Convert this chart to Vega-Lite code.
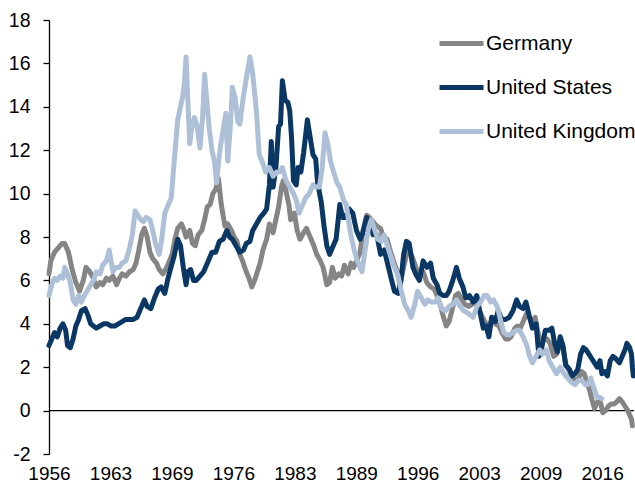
{
"$schema":"https://vega.github.io/schema/vega-lite/v6.json",
"width":585,"height":434,
"autosize":{"type":"none"},
"padding":{"left":49,"top":20,"right":1,"bottom":30},
"config":{"view":{"stroke":null},"font":"Liberation Sans"},
"datasets":{"rates":[
{"c":"Germany","t":1956.0,"v":6.3},{"c":"Germany","t":1956.2,"v":6.9},{"c":"Germany","t":1956.6,"v":7.3},{"c":"Germany","t":1957.0,"v":7.5},{"c":"Germany","t":1957.4,"v":7.7},{"c":"Germany","t":1957.7,"v":7.7},{"c":"Germany","t":1958.1,"v":7.3},{"c":"Germany","t":1958.5,"v":6.5},{"c":"Germany","t":1958.9,"v":5.9},{"c":"Germany","t":1959.3,"v":5.5},{"c":"Germany","t":1959.7,"v":6.0},{"c":"Germany","t":1960.0,"v":6.6},{"c":"Germany","t":1960.4,"v":6.4},{"c":"Germany","t":1960.8,"v":6.1},{"c":"Germany","t":1961.1,"v":5.7},{"c":"Germany","t":1961.5,"v":5.9},{"c":"Germany","t":1961.8,"v":5.8},{"c":"Germany","t":1962.2,"v":6.1},{"c":"Germany","t":1962.5,"v":6.0},{"c":"Germany","t":1962.9,"v":6.2},{"c":"Germany","t":1963.3,"v":5.8},{"c":"Germany","t":1963.6,"v":6.1},{"c":"Germany","t":1963.9,"v":6.3},{"c":"Germany","t":1964.3,"v":6.2},{"c":"Germany","t":1964.7,"v":6.4},{"c":"Germany","t":1965.1,"v":6.5},{"c":"Germany","t":1965.4,"v":6.8},{"c":"Germany","t":1965.7,"v":7.4},{"c":"Germany","t":1966.0,"v":8.1},{"c":"Germany","t":1966.3,"v":8.4},{"c":"Germany","t":1966.6,"v":8.0},{"c":"Germany","t":1966.9,"v":7.3},{"c":"Germany","t":1967.2,"v":7.0},{"c":"Germany","t":1967.6,"v":6.8},{"c":"Germany","t":1967.9,"v":6.5},{"c":"Germany","t":1968.3,"v":6.3},{"c":"Germany","t":1968.7,"v":6.6},{"c":"Germany","t":1969.0,"v":6.9},{"c":"Germany","t":1969.3,"v":7.2},{"c":"Germany","t":1969.6,"v":7.9},{"c":"Germany","t":1969.9,"v":8.4},{"c":"Germany","t":1970.3,"v":8.6},{"c":"Germany","t":1970.6,"v":8.3},{"c":"Germany","t":1970.8,"v":8.0},{"c":"Germany","t":1971.2,"v":8.3},{"c":"Germany","t":1971.5,"v":7.7},{"c":"Germany","t":1971.8,"v":7.6},{"c":"Germany","t":1972.1,"v":8.1},{"c":"Germany","t":1972.5,"v":8.3},{"c":"Germany","t":1972.8,"v":8.8},{"c":"Germany","t":1973.1,"v":9.4},{"c":"Germany","t":1973.4,"v":9.5},{"c":"Germany","t":1973.7,"v":10.0},{"c":"Germany","t":1974.0,"v":10.2},{"c":"Germany","t":1974.3,"v":10.7},{"c":"Germany","t":1974.6,"v":9.5},{"c":"Germany","t":1975.0,"v":8.5},{"c":"Germany","t":1975.3,"v":8.6},{"c":"Germany","t":1975.7,"v":8.3},{"c":"Germany","t":1976.0,"v":8.0},{"c":"Germany","t":1976.3,"v":7.8},{"c":"Germany","t":1976.6,"v":7.2},{"c":"Germany","t":1976.9,"v":6.9},{"c":"Germany","t":1977.3,"v":6.4},{"c":"Germany","t":1977.6,"v":6.1},{"c":"Germany","t":1977.9,"v":5.7},{"c":"Germany","t":1978.2,"v":6.0},{"c":"Germany","t":1978.5,"v":6.4},{"c":"Germany","t":1978.8,"v":6.8},{"c":"Germany","t":1979.1,"v":7.4},{"c":"Germany","t":1979.5,"v":7.9},{"c":"Germany","t":1979.8,"v":8.6},{"c":"Germany","t":1980.2,"v":8.2},{"c":"Germany","t":1980.5,"v":8.8},{"c":"Germany","t":1980.8,"v":9.4},{"c":"Germany","t":1981.1,"v":10.3},{"c":"Germany","t":1981.3,"v":10.6},{"c":"Germany","t":1981.6,"v":10.1},{"c":"Germany","t":1981.9,"v":9.5},{"c":"Germany","t":1982.1,"v":8.8},{"c":"Germany","t":1982.5,"v":9.1},{"c":"Germany","t":1982.8,"v":8.3},{"c":"Germany","t":1983.1,"v":7.9},{"c":"Germany","t":1983.5,"v":8.2},{"c":"Germany","t":1983.8,"v":8.4},{"c":"Germany","t":1984.2,"v":8.0},{"c":"Germany","t":1984.6,"v":7.6},{"c":"Germany","t":1984.9,"v":7.2},{"c":"Germany","t":1985.3,"v":6.9},{"c":"Germany","t":1985.6,"v":6.6},{"c":"Germany","t":1986.0,"v":5.8},{"c":"Germany","t":1986.3,"v":5.9},{"c":"Germany","t":1986.6,"v":6.6},{"c":"Germany","t":1986.9,"v":6.1},{"c":"Germany","t":1987.3,"v":6.3},{"c":"Germany","t":1987.6,"v":6.2},{"c":"Germany","t":1987.9,"v":6.7},{"c":"Germany","t":1988.3,"v":6.3},{"c":"Germany","t":1988.6,"v":6.8},{"c":"Germany","t":1988.9,"v":6.6},{"c":"Germany","t":1989.3,"v":7.0},{"c":"Germany","t":1989.6,"v":7.3},{"c":"Germany","t":1989.9,"v":8.3},{"c":"Germany","t":1990.3,"v":9.0},{"c":"Germany","t":1990.6,"v":8.9},{"c":"Germany","t":1991.0,"v":8.7},{"c":"Germany","t":1991.4,"v":8.5},{"c":"Germany","t":1991.8,"v":8.4},{"c":"Germany","t":1992.1,"v":8.0},{"c":"Germany","t":1992.5,"v":7.9},{"c":"Germany","t":1992.9,"v":7.3},{"c":"Germany","t":1993.2,"v":6.9},{"c":"Germany","t":1993.6,"v":6.4},{"c":"Germany","t":1993.9,"v":5.8},{"c":"Germany","t":1994.3,"v":6.6},{"c":"Germany","t":1994.6,"v":7.2},{"c":"Germany","t":1994.9,"v":7.4},{"c":"Germany","t":1995.3,"v":7.0},{"c":"Germany","t":1995.7,"v":6.5},{"c":"Germany","t":1996.0,"v":6.2},{"c":"Germany","t":1996.4,"v":6.4},{"c":"Germany","t":1996.8,"v":5.9},{"c":"Germany","t":1997.2,"v":5.7},{"c":"Germany","t":1997.6,"v":5.6},{"c":"Germany","t":1997.9,"v":5.3},{"c":"Germany","t":1998.3,"v":4.8},{"c":"Germany","t":1998.6,"v":4.3},{"c":"Germany","t":1998.9,"v":3.9},{"c":"Germany","t":1999.2,"v":4.1},{"c":"Germany","t":1999.5,"v":4.6},{"c":"Germany","t":1999.9,"v":5.3},{"c":"Germany","t":2000.2,"v":5.4},{"c":"Germany","t":2000.6,"v":5.1},{"c":"Germany","t":2000.9,"v":4.9},{"c":"Germany","t":2001.3,"v":4.8},{"c":"Germany","t":2001.7,"v":4.9},{"c":"Germany","t":2002.1,"v":5.0},{"c":"Germany","t":2002.5,"v":4.6},{"c":"Germany","t":2002.8,"v":4.3},{"c":"Germany","t":2003.2,"v":4.0},{"c":"Germany","t":2003.5,"v":3.8},{"c":"Germany","t":2003.9,"v":4.3},{"c":"Germany","t":2004.2,"v":4.0},{"c":"Germany","t":2004.6,"v":3.9},{"c":"Germany","t":2004.9,"v":3.6},{"c":"Germany","t":2005.3,"v":3.3},{"c":"Germany","t":2005.6,"v":3.3},{"c":"Germany","t":2005.9,"v":3.4},{"c":"Germany","t":2006.3,"v":3.8},{"c":"Germany","t":2006.6,"v":3.9},{"c":"Germany","t":2006.9,"v":3.8},{"c":"Germany","t":2007.2,"v":4.1},{"c":"Germany","t":2007.6,"v":4.5},{"c":"Germany","t":2007.9,"v":4.3},{"c":"Germany","t":2008.2,"v":4.1},{"c":"Germany","t":2008.5,"v":4.3},{"c":"Germany","t":2008.8,"v":3.6},{"c":"Germany","t":2009.1,"v":3.1},{"c":"Germany","t":2009.5,"v":3.3},{"c":"Germany","t":2009.8,"v":3.3},{"c":"Germany","t":2010.1,"v":3.1},{"c":"Germany","t":2010.5,"v":2.5},{"c":"Germany","t":2010.8,"v":2.6},{"c":"Germany","t":2011.1,"v":3.0},{"c":"Germany","t":2011.4,"v":3.1},{"c":"Germany","t":2011.8,"v":2.1},{"c":"Germany","t":2012.1,"v":1.9},{"c":"Germany","t":2012.5,"v":1.5},{"c":"Germany","t":2012.9,"v":1.4},{"c":"Germany","t":2013.2,"v":1.5},{"c":"Germany","t":2013.5,"v":1.8},{"c":"Germany","t":2013.8,"v":1.7},{"c":"Germany","t":2014.1,"v":1.3},{"c":"Germany","t":2014.4,"v":0.9},{"c":"Germany","t":2014.7,"v":0.4},{"c":"Germany","t":2014.9,"v":0.1},{"c":"Germany","t":2015.1,"v":0.3},{"c":"Germany","t":2015.4,"v":0.5},{"c":"Germany","t":2015.6,"v":0.3},{"c":"Germany","t":2015.8,"v":-0.1},{"c":"Germany","t":2016.1,"v":0.0},{"c":"Germany","t":2016.4,"v":0.2},{"c":"Germany","t":2016.7,"v":0.3},{"c":"Germany","t":2017.0,"v":0.3},{"c":"Germany","t":2017.3,"v":0.4},{"c":"Germany","t":2017.6,"v":0.55},{"c":"Germany","t":2017.9,"v":0.4},{"c":"Germany","t":2018.2,"v":0.2},{"c":"Germany","t":2018.5,"v":0.0},{"c":"Germany","t":2018.7,"v":-0.2},{"c":"Germany","t":2018.9,"v":-0.4},{"c":"Germany","t":2019.0,"v":-0.7},
{"c":"United States","t":1956.0,"v":3.0},{"c":"United States","t":1956.3,"v":3.3},{"c":"United States","t":1956.6,"v":3.6},{"c":"United States","t":1956.9,"v":3.4},{"c":"United States","t":1957.2,"v":3.8},{"c":"United States","t":1957.5,"v":4.0},{"c":"United States","t":1957.8,"v":3.7},{"c":"United States","t":1958.0,"v":3.0},{"c":"United States","t":1958.3,"v":2.9},{"c":"United States","t":1958.6,"v":3.3},{"c":"United States","t":1958.9,"v":3.9},{"c":"United States","t":1959.2,"v":4.2},{"c":"United States","t":1959.5,"v":4.6},{"c":"United States","t":1959.9,"v":4.7},{"c":"United States","t":1960.2,"v":4.4},{"c":"United States","t":1960.5,"v":4.0},{"c":"United States","t":1960.8,"v":3.9},{"c":"United States","t":1961.1,"v":3.8},{"c":"United States","t":1961.5,"v":3.9},{"c":"United States","t":1961.9,"v":4.0},{"c":"United States","t":1962.3,"v":4.0},{"c":"United States","t":1962.7,"v":3.9},{"c":"United States","t":1963.1,"v":3.9},{"c":"United States","t":1963.5,"v":4.0},{"c":"United States","t":1963.9,"v":4.1},{"c":"United States","t":1964.3,"v":4.2},{"c":"United States","t":1964.7,"v":4.2},{"c":"United States","t":1965.1,"v":4.2},{"c":"United States","t":1965.5,"v":4.3},{"c":"United States","t":1965.9,"v":4.7},{"c":"United States","t":1966.3,"v":5.1},{"c":"United States","t":1966.6,"v":4.8},{"c":"United States","t":1967.0,"v":4.7},{"c":"United States","t":1967.4,"v":5.2},{"c":"United States","t":1967.8,"v":5.6},{"c":"United States","t":1968.1,"v":5.7},{"c":"United States","t":1968.5,"v":5.4},{"c":"United States","t":1968.8,"v":6.0},{"c":"United States","t":1969.1,"v":6.5},{"c":"United States","t":1969.5,"v":7.1},{"c":"United States","t":1969.9,"v":7.9},{"c":"United States","t":1970.2,"v":7.6},{"c":"United States","t":1970.5,"v":6.6},{"c":"United States","t":1970.8,"v":5.8},{"c":"United States","t":1971.0,"v":6.4},{"c":"United States","t":1971.3,"v":6.5},{"c":"United States","t":1971.6,"v":6.0},{"c":"United States","t":1971.9,"v":6.0},{"c":"United States","t":1972.3,"v":6.2},{"c":"United States","t":1972.7,"v":6.4},{"c":"United States","t":1973.0,"v":6.7},{"c":"United States","t":1973.3,"v":7.0},{"c":"United States","t":1973.6,"v":7.3},{"c":"United States","t":1974.0,"v":7.3},{"c":"United States","t":1974.4,"v":7.8},{"c":"United States","t":1974.8,"v":7.9},{"c":"United States","t":1975.2,"v":8.3},{"c":"United States","t":1975.5,"v":8.0},{"c":"United States","t":1975.8,"v":7.9},{"c":"United States","t":1976.2,"v":7.6},{"c":"United States","t":1976.6,"v":7.3},{"c":"United States","t":1977.0,"v":7.4},{"c":"United States","t":1977.3,"v":7.7},{"c":"United States","t":1977.7,"v":7.8},{"c":"United States","t":1978.0,"v":8.3},{"c":"United States","t":1978.4,"v":8.6},{"c":"United States","t":1978.8,"v":8.9},{"c":"United States","t":1979.2,"v":9.1},{"c":"United States","t":1979.5,"v":9.3},{"c":"United States","t":1979.8,"v":10.4},{"c":"United States","t":1980.0,"v":12.4},{"c":"United States","t":1980.2,"v":10.3},{"c":"United States","t":1980.5,"v":11.2},{"c":"United States","t":1980.8,"v":13.1},{"c":"United States","t":1981.0,"v":13.2},{"c":"United States","t":1981.2,"v":15.2},{"c":"United States","t":1981.5,"v":14.3},{"c":"United States","t":1981.8,"v":14.2},{"c":"United States","t":1982.0,"v":13.8},{"c":"United States","t":1982.2,"v":12.5},{"c":"United States","t":1982.4,"v":10.6},{"c":"United States","t":1982.7,"v":10.4},{"c":"United States","t":1982.9,"v":11.2},{"c":"United States","t":1983.2,"v":11.0},{"c":"United States","t":1983.5,"v":11.9},{"c":"United States","t":1983.9,"v":13.4},{"c":"United States","t":1984.2,"v":12.6},{"c":"United States","t":1984.5,"v":11.8},{"c":"United States","t":1984.8,"v":11.6},{"c":"United States","t":1985.0,"v":10.5},{"c":"United States","t":1985.4,"v":9.6},{"c":"United States","t":1985.7,"v":8.5},{"c":"United States","t":1986.0,"v":7.6},{"c":"United States","t":1986.3,"v":7.2},{"c":"United States","t":1986.6,"v":7.5},{"c":"United States","t":1987.0,"v":7.9},{"c":"United States","t":1987.4,"v":9.5},{"c":"United States","t":1987.7,"v":8.9},{"c":"United States","t":1988.0,"v":8.9},{"c":"United States","t":1988.4,"v":9.3},{"c":"United States","t":1988.8,"v":9.1},{"c":"United States","t":1989.2,"v":8.3},{"c":"United States","t":1989.6,"v":7.9},{"c":"United States","t":1989.9,"v":8.2},{"c":"United States","t":1990.3,"v":8.9},{"c":"United States","t":1990.7,"v":8.6},{"c":"United States","t":1991.0,"v":8.1},{"c":"United States","t":1991.4,"v":8.1},{"c":"United States","t":1991.8,"v":7.2},{"c":"United States","t":1992.2,"v":7.4},{"c":"United States","t":1992.6,"v":6.7},{"c":"United States","t":1993.0,"v":6.0},{"c":"United States","t":1993.3,"v":5.5},{"c":"United States","t":1993.7,"v":5.4},{"c":"United States","t":1994.0,"v":6.0},{"c":"United States","t":1994.3,"v":7.2},{"c":"United States","t":1994.6,"v":7.8},{"c":"United States","t":1994.9,"v":7.7},{"c":"United States","t":1995.3,"v":6.6},{"c":"United States","t":1995.6,"v":6.3},{"c":"United States","t":1996.0,"v":6.0},{"c":"United States","t":1996.4,"v":6.9},{"c":"United States","t":1996.8,"v":6.6},{"c":"United States","t":1997.2,"v":6.8},{"c":"United States","t":1997.5,"v":6.1},{"c":"United States","t":1997.9,"v":5.8},{"c":"United States","t":1998.2,"v":5.4},{"c":"United States","t":1998.6,"v":5.3},{"c":"United States","t":1998.9,"v":5.3},{"c":"United States","t":1999.2,"v":5.5},{"c":"United States","t":1999.6,"v":6.0},{"c":"United States","t":2000.0,"v":6.6},{"c":"United States","t":2000.3,"v":6.1},{"c":"United States","t":2000.7,"v":5.7},{"c":"United States","t":2001.0,"v":5.2},{"c":"United States","t":2001.4,"v":5.3},{"c":"United States","t":2001.8,"v":5.0},{"c":"United States","t":2002.2,"v":5.3},{"c":"United States","t":2002.5,"v":4.6},{"c":"United States","t":2002.9,"v":3.8},{"c":"United States","t":2003.2,"v":3.9},{"c":"United States","t":2003.5,"v":3.4},{"c":"United States","t":2003.8,"v":4.3},{"c":"United States","t":2004.2,"v":4.1},{"c":"United States","t":2004.5,"v":4.6},{"c":"United States","t":2004.9,"v":4.2},{"c":"United States","t":2005.3,"v":4.2},{"c":"United States","t":2005.7,"v":4.3},{"c":"United States","t":2006.1,"v":4.6},{"c":"United States","t":2006.5,"v":5.1},{"c":"United States","t":2006.8,"v":4.8},{"c":"United States","t":2007.2,"v":4.7},{"c":"United States","t":2007.5,"v":5.0},{"c":"United States","t":2007.9,"v":4.3},{"c":"United States","t":2008.2,"v":3.8},{"c":"United States","t":2008.6,"v":4.0},{"c":"United States","t":2008.9,"v":2.5},{"c":"United States","t":2009.2,"v":2.9},{"c":"United States","t":2009.6,"v":3.7},{"c":"United States","t":2010.0,"v":3.7},{"c":"United States","t":2010.3,"v":3.8},{"c":"United States","t":2010.6,"v":3.1},{"c":"United States","t":2010.9,"v":2.7},{"c":"United States","t":2011.2,"v":3.4},{"c":"United States","t":2011.5,"v":3.0},{"c":"United States","t":2011.8,"v":2.1},{"c":"United States","t":2012.2,"v":1.9},{"c":"United States","t":2012.5,"v":1.6},{"c":"United States","t":2012.8,"v":1.7},{"c":"United States","t":2013.1,"v":1.9},{"c":"United States","t":2013.4,"v":2.6},{"c":"United States","t":2013.7,"v":2.9},{"c":"United States","t":2014.0,"v":2.8},{"c":"United States","t":2014.3,"v":2.6},{"c":"United States","t":2014.6,"v":2.4},{"c":"United States","t":2014.9,"v":2.2},{"c":"United States","t":2015.2,"v":2.0},{"c":"United States","t":2015.5,"v":2.3},{"c":"United States","t":2015.7,"v":1.7},{"c":"United States","t":2016.0,"v":1.8},{"c":"United States","t":2016.3,"v":1.6},{"c":"United States","t":2016.6,"v":2.3},{"c":"United States","t":2016.9,"v":2.5},{"c":"United States","t":2017.2,"v":2.4},{"c":"United States","t":2017.6,"v":2.2},{"c":"United States","t":2017.9,"v":2.5},{"c":"United States","t":2018.2,"v":2.8},{"c":"United States","t":2018.4,"v":3.1},{"c":"United States","t":2018.7,"v":2.9},{"c":"United States","t":2018.9,"v":2.6},{"c":"United States","t":2019.0,"v":2.0},{"c":"United States","t":2019.1,"v":1.6},
{"c":"United Kingdom","t":1956.0,"v":5.3},{"c":"United Kingdom","t":1956.3,"v":5.8},{"c":"United Kingdom","t":1956.6,"v":6.1},{"c":"United Kingdom","t":1956.9,"v":6.0},{"c":"United Kingdom","t":1957.2,"v":6.2},{"c":"United Kingdom","t":1957.5,"v":6.1},{"c":"United Kingdom","t":1957.7,"v":6.6},{"c":"United Kingdom","t":1958.0,"v":6.3},{"c":"United Kingdom","t":1958.3,"v":5.9},{"c":"United Kingdom","t":1958.6,"v":5.1},{"c":"United Kingdom","t":1958.9,"v":4.9},{"c":"United Kingdom","t":1959.2,"v":5.3},{"c":"United Kingdom","t":1959.5,"v":5.0},{"c":"United Kingdom","t":1959.8,"v":5.3},{"c":"United Kingdom","t":1960.1,"v":5.5},{"c":"United Kingdom","t":1960.5,"v":5.8},{"c":"United Kingdom","t":1960.8,"v":6.0},{"c":"United Kingdom","t":1961.1,"v":6.4},{"c":"United Kingdom","t":1961.5,"v":6.3},{"c":"United Kingdom","t":1961.8,"v":6.7},{"c":"United Kingdom","t":1962.2,"v":6.9},{"c":"United Kingdom","t":1962.5,"v":7.4},{"c":"United Kingdom","t":1962.9,"v":6.4},{"c":"United Kingdom","t":1963.2,"v":6.6},{"c":"United Kingdom","t":1963.6,"v":6.6},{"c":"United Kingdom","t":1963.9,"v":6.8},{"c":"United Kingdom","t":1964.3,"v":6.9},{"c":"United Kingdom","t":1964.7,"v":7.5},{"c":"United Kingdom","t":1965.0,"v":8.1},{"c":"United Kingdom","t":1965.3,"v":9.2},{"c":"United Kingdom","t":1965.6,"v":9.0},{"c":"United Kingdom","t":1965.9,"v":8.8},{"c":"United Kingdom","t":1966.2,"v":8.7},{"c":"United Kingdom","t":1966.5,"v":8.9},{"c":"United Kingdom","t":1966.9,"v":8.8},{"c":"United Kingdom","t":1967.2,"v":8.3},{"c":"United Kingdom","t":1967.5,"v":7.7},{"c":"United Kingdom","t":1967.9,"v":7.2},{"c":"United Kingdom","t":1968.2,"v":8.0},{"c":"United Kingdom","t":1968.5,"v":9.1},{"c":"United Kingdom","t":1968.8,"v":9.4},{"c":"United Kingdom","t":1969.2,"v":9.8},{"c":"United Kingdom","t":1969.5,"v":11.4},{"c":"United Kingdom","t":1969.9,"v":13.4},{"c":"United Kingdom","t":1970.2,"v":14.0},{"c":"United Kingdom","t":1970.4,"v":14.4},{"c":"United Kingdom","t":1970.6,"v":15.0},{"c":"United Kingdom","t":1970.8,"v":16.3},{"c":"United Kingdom","t":1971.0,"v":14.2},{"c":"United Kingdom","t":1971.2,"v":12.3},{"c":"United Kingdom","t":1971.4,"v":13.0},{"c":"United Kingdom","t":1971.7,"v":13.5},{"c":"United Kingdom","t":1972.0,"v":13.1},{"c":"United Kingdom","t":1972.3,"v":12.1},{"c":"United Kingdom","t":1972.6,"v":13.6},{"c":"United Kingdom","t":1972.8,"v":15.5},{"c":"United Kingdom","t":1973.0,"v":14.5},{"c":"United Kingdom","t":1973.3,"v":13.0},{"c":"United Kingdom","t":1973.6,"v":12.0},{"c":"United Kingdom","t":1973.9,"v":11.4},{"c":"United Kingdom","t":1974.1,"v":10.5},{"c":"United Kingdom","t":1974.4,"v":11.8},{"c":"United Kingdom","t":1974.6,"v":12.4},{"c":"United Kingdom","t":1974.9,"v":13.2},{"c":"United Kingdom","t":1975.1,"v":13.7},{"c":"United Kingdom","t":1975.3,"v":11.5},{"c":"United Kingdom","t":1975.6,"v":13.2},{"c":"United Kingdom","t":1975.8,"v":14.9},{"c":"United Kingdom","t":1976.1,"v":14.4},{"c":"United Kingdom","t":1976.4,"v":13.3},{"c":"United Kingdom","t":1976.6,"v":13.2},{"c":"United Kingdom","t":1976.9,"v":14.2},{"c":"United Kingdom","t":1977.3,"v":15.3},{"c":"United Kingdom","t":1977.7,"v":16.3},{"c":"United Kingdom","t":1978.0,"v":15.5},{"c":"United Kingdom","t":1978.4,"v":13.8},{"c":"United Kingdom","t":1978.7,"v":11.8},{"c":"United Kingdom","t":1979.0,"v":11.5},{"c":"United Kingdom","t":1979.4,"v":11.0},{"c":"United Kingdom","t":1979.8,"v":11.2},{"c":"United Kingdom","t":1980.2,"v":10.8},{"c":"United Kingdom","t":1980.6,"v":11.0},{"c":"United Kingdom","t":1980.9,"v":11.0},{"c":"United Kingdom","t":1981.2,"v":11.2},{"c":"United Kingdom","t":1981.6,"v":10.6},{"c":"United Kingdom","t":1982.0,"v":10.3},{"c":"United Kingdom","t":1982.4,"v":10.0},{"c":"United Kingdom","t":1982.7,"v":9.7},{"c":"United Kingdom","t":1983.0,"v":9.1},{"c":"United Kingdom","t":1983.4,"v":9.5},{"c":"United Kingdom","t":1983.7,"v":9.8},{"c":"United Kingdom","t":1984.1,"v":10.0},{"c":"United Kingdom","t":1984.5,"v":10.4},{"c":"United Kingdom","t":1984.8,"v":10.3},{"c":"United Kingdom","t":1985.2,"v":10.3},{"c":"United Kingdom","t":1985.5,"v":11.2},{"c":"United Kingdom","t":1985.8,"v":12.8},{"c":"United Kingdom","t":1986.1,"v":12.3},{"c":"United Kingdom","t":1986.4,"v":11.5},{"c":"United Kingdom","t":1986.8,"v":10.9},{"c":"United Kingdom","t":1987.1,"v":10.5},{"c":"United Kingdom","t":1987.4,"v":10.3},{"c":"United Kingdom","t":1987.8,"v":9.7},{"c":"United Kingdom","t":1988.1,"v":9.5},{"c":"United Kingdom","t":1988.5,"v":8.3},{"c":"United Kingdom","t":1988.9,"v":7.5},{"c":"United Kingdom","t":1989.2,"v":7.0},{"c":"United Kingdom","t":1989.5,"v":6.7},{"c":"United Kingdom","t":1989.8,"v":6.4},{"c":"United Kingdom","t":1990.1,"v":7.3},{"c":"United Kingdom","t":1990.5,"v":8.4},{"c":"United Kingdom","t":1990.8,"v":8.8},{"c":"United Kingdom","t":1991.2,"v":8.3},{"c":"United Kingdom","t":1991.5,"v":7.9},{"c":"United Kingdom","t":1991.9,"v":7.8},{"c":"United Kingdom","t":1992.2,"v":8.1},{"c":"United Kingdom","t":1992.6,"v":7.5},{"c":"United Kingdom","t":1993.0,"v":7.0},{"c":"United Kingdom","t":1993.3,"v":6.6},{"c":"United Kingdom","t":1993.7,"v":6.2},{"c":"United Kingdom","t":1994.0,"v":5.6},{"c":"United Kingdom","t":1994.4,"v":4.9},{"c":"United Kingdom","t":1994.8,"v":4.6},{"c":"United Kingdom","t":1995.1,"v":4.3},{"c":"United Kingdom","t":1995.5,"v":4.9},{"c":"United Kingdom","t":1995.8,"v":5.5},{"c":"United Kingdom","t":1996.2,"v":5.2},{"c":"United Kingdom","t":1996.6,"v":4.9},{"c":"United Kingdom","t":1996.9,"v":5.1},{"c":"United Kingdom","t":1997.3,"v":5.0},{"c":"United Kingdom","t":1997.7,"v":5.0},{"c":"United Kingdom","t":1998.0,"v":5.2},{"c":"United Kingdom","t":1998.4,"v":4.7},{"c":"United Kingdom","t":1998.8,"v":4.6},{"c":"United Kingdom","t":1999.2,"v":4.8},{"c":"United Kingdom","t":1999.6,"v":4.9},{"c":"United Kingdom","t":2000.0,"v":5.1},{"c":"United Kingdom","t":2000.4,"v":4.8},{"c":"United Kingdom","t":2000.8,"v":4.6},{"c":"United Kingdom","t":2001.2,"v":4.5},{"c":"United Kingdom","t":2001.8,"v":4.3},{"c":"United Kingdom","t":2002.2,"v":4.8},{"c":"United Kingdom","t":2002.6,"v":5.0},{"c":"United Kingdom","t":2003.0,"v":5.3},{"c":"United Kingdom","t":2003.3,"v":5.3},{"c":"United Kingdom","t":2003.7,"v":5.0},{"c":"United Kingdom","t":2004.0,"v":5.1},{"c":"United Kingdom","t":2004.4,"v":4.8},{"c":"United Kingdom","t":2004.8,"v":4.1},{"c":"United Kingdom","t":2005.1,"v":3.6},{"c":"United Kingdom","t":2005.4,"v":3.5},{"c":"United Kingdom","t":2005.8,"v":3.5},{"c":"United Kingdom","t":2006.1,"v":3.6},{"c":"United Kingdom","t":2006.5,"v":3.7},{"c":"United Kingdom","t":2006.8,"v":3.7},{"c":"United Kingdom","t":2007.2,"v":3.4},{"c":"United Kingdom","t":2007.6,"v":3.0},{"c":"United Kingdom","t":2007.9,"v":2.5},{"c":"United Kingdom","t":2008.2,"v":2.2},{"c":"United Kingdom","t":2008.6,"v":2.5},{"c":"United Kingdom","t":2009.0,"v":2.8},{"c":"United Kingdom","t":2009.3,"v":2.6},{"c":"United Kingdom","t":2009.7,"v":2.8},{"c":"United Kingdom","t":2010.0,"v":2.3},{"c":"United Kingdom","t":2010.4,"v":2.0},{"c":"United Kingdom","t":2010.8,"v":1.7},{"c":"United Kingdom","t":2011.2,"v":2.0},{"c":"United Kingdom","t":2011.6,"v":1.7},{"c":"United Kingdom","t":2012.0,"v":1.5},{"c":"United Kingdom","t":2012.4,"v":1.3},{"c":"United Kingdom","t":2012.8,"v":1.2},{"c":"United Kingdom","t":2013.2,"v":1.4},{"c":"United Kingdom","t":2013.5,"v":1.4},{"c":"United Kingdom","t":2013.9,"v":1.2},{"c":"United Kingdom","t":2014.2,"v":1.2},{"c":"United Kingdom","t":2014.5,"v":1.5},{"c":"United Kingdom","t":2014.8,"v":1.1},{"c":"United Kingdom","t":2015.2,"v":0.6},{"c":"United Kingdom","t":2015.5,"v":0.6},{"c":"United Kingdom","t":2015.7,"v":0.55}
]},
"layer":[
{"data":{"values":[{}]},
 "mark":{"type":"rule","color":"#000000","strokeWidth":1.3},
 "encoding":{"y":{"datum":0,"type":"quantitative","scale":{"domain":[-2,18],"nice":false,"zero":false}}}},
{"data":{"name":"rates"},
 "mark":{"type":"line","strokeWidth":5,"strokeJoin":"round","strokeCap":"round"},
 "encoding":{
  "x":{"field":"t","type":"quantitative","scale":{"domain":[1956,2019.17],"nice":false,"zero":false},
       "axis":{"title":null,"grid":false,"domain":false,"ticks":false,"labelFontSize":19,"labelColor":"#000000","labelPadding":10,"labelFlush":false,"labelOverlap":false,
               "values":[1956,1962.636,1969.272,1975.908,1982.544,1989.18,1995.816,2002.452,2009.088,2015.724],
               "labelExpr":"['1956','1963','1969','1976','1983','1989','1996','2003','2009','2016'][round((datum.value-1956)/6.636)]"}},
  "y":{"field":"v","type":"quantitative","scale":{"domain":[-2,18],"nice":false,"zero":false},
       "axis":{"title":null,"grid":false,"values":[-2,0,2,4,6,8,10,12,14,16,18],"labelExpr":"''+datum.value","labelFontSize":19.5,"labelColor":"#000000","labelPadding":13,"domainColor":"#000000","domainWidth":1.3,"tickColor":"#000000","tickWidth":1.3,"tickSize":6}},
  "color":{"field":"c","type":"nominal","scale":{"domain":["Germany","United States","United Kingdom"],"range":["#858585","#0a3763","#aec0d7"]},
           "legend":{"title":null,"orient":"none","legendX":388,"legendY":-1,"symbolType":"stroke","symbolSize":1936,"symbolStrokeWidth":5,"labelFontSize":21,"labelColor":"#000000","labelOffset":0,"rowPadding":9}}
 }}
]
}
